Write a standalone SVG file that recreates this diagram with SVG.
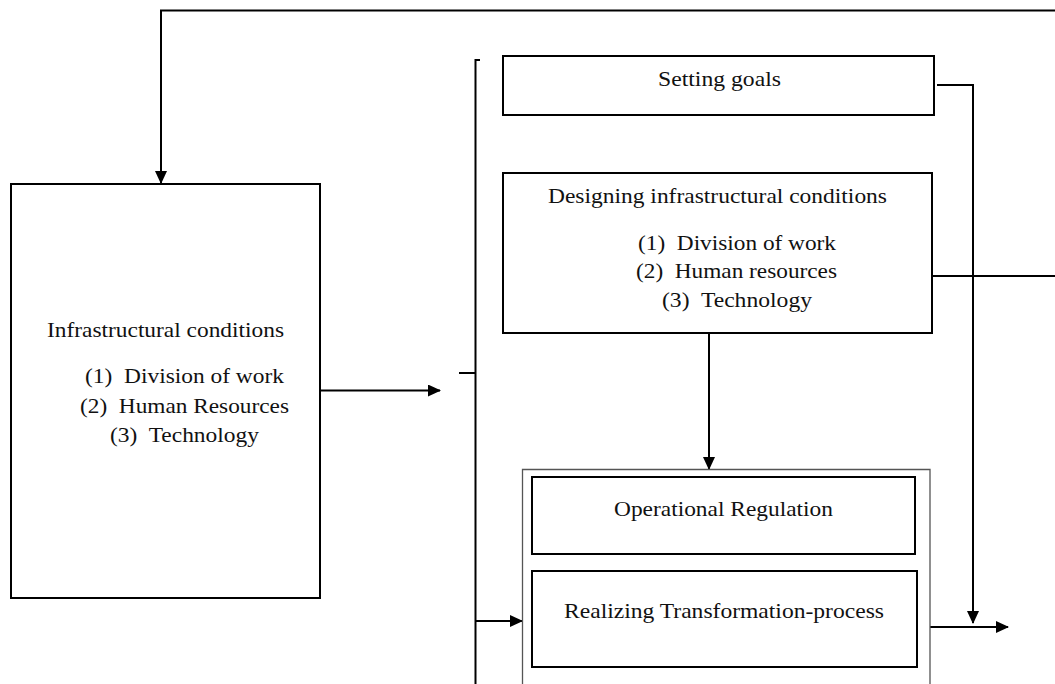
<svg xmlns="http://www.w3.org/2000/svg" width="1055" height="684" viewBox="0 0 1055 684">
<style>
.box{fill:#fff;stroke:#000;stroke-width:2}
.thin{fill:none;stroke:#555;stroke-width:1.3}
.ln{fill:none;stroke:#000;stroke-width:2}
.t{font-family:"Liberation Serif","Times New Roman",serif;font-size:22px;fill:#111}
</style>
<defs>
<marker id="ah" markerUnits="userSpaceOnUse" markerWidth="13" markerHeight="12" refX="12" refY="6" orient="auto">
<path d="M0,0 L13,6 L0,12 z" fill="#000"/>
</marker>
</defs>
<rect width="1055" height="684" fill="#fff"/>
<g id="connectors">
<path class="ln" d="M1055,10.5 H161 V183" marker-end="url(#ah)"/>
<path class="ln" d="M320,390.5 H440" marker-end="url(#ah)"/>
<path class="ln" d="M480,60 H475.5 V684"/>
<path class="ln" d="M459,373 H475.5"/>
<path class="ln" d="M475.5,621 H522" marker-end="url(#ah)"/>
<path class="ln" d="M709,333 V469" marker-end="url(#ah)"/>
<path class="ln" d="M937,85 H973 V623" marker-end="url(#ah)"/>
<path class="ln" d="M932,276 H1055"/>
<path class="ln" d="M930,627 H1008" marker-end="url(#ah)"/>
</g>
<g id="infra">
<rect class="box" x="11" y="184" width="309" height="414"/>
<text class="t" x="47" y="337" textLength="237" lengthAdjust="spacingAndGlyphs">Infrastructural conditions</text>
<text class="t" x="85" y="383" textLength="199" lengthAdjust="spacingAndGlyphs">(1)&#160; Division of work</text>
<text class="t" x="80" y="413" textLength="209" lengthAdjust="spacingAndGlyphs">(2)&#160; Human Resources</text>
<text class="t" x="110" y="442" textLength="149" lengthAdjust="spacingAndGlyphs">(3)&#160; Technology</text>
</g>
<g id="goals">
<rect class="box" x="503" y="56" width="431" height="59"/>
<text class="t" x="658" y="86" textLength="123" lengthAdjust="spacingAndGlyphs">Setting goals</text>
</g>
<g id="designing">
<rect class="box" x="503" y="173" width="429" height="160"/>
<text class="t" x="548" y="203" textLength="339" lengthAdjust="spacingAndGlyphs">Designing infrastructural conditions</text>
<text class="t" x="638" y="250" textLength="198" lengthAdjust="spacingAndGlyphs">(1)&#160; Division of work</text>
<text class="t" x="636" y="278" textLength="201" lengthAdjust="spacingAndGlyphs">(2)&#160; Human resources</text>
<text class="t" x="662" y="307" textLength="150" lengthAdjust="spacingAndGlyphs">(3)&#160; Technology</text>
</g>
<g id="container">
<path class="thin" d="M522.5,690 V469.5 H930 V690"/>
</g>
<g id="operational">
<rect class="box" x="532" y="477" width="383" height="77"/>
<text class="t" x="614" y="516" textLength="219" lengthAdjust="spacingAndGlyphs">Operational Regulation</text>
</g>
<g id="realizing">
<rect class="box" x="532" y="571" width="385" height="96"/>
<text class="t" x="564" y="618" textLength="320" lengthAdjust="spacingAndGlyphs">Realizing Transformation-process</text>
</g>
</svg>
